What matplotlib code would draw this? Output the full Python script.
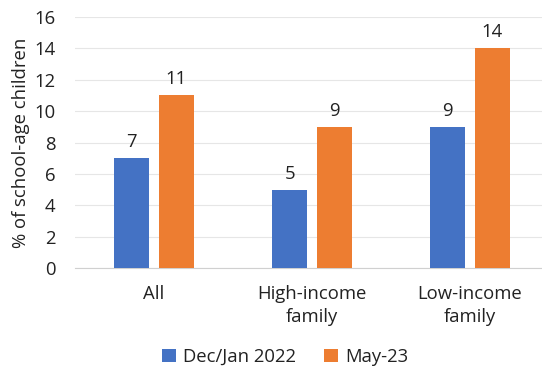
import matplotlib.pyplot as plt
import numpy as np

plt.rcParams['font.family'] = ['Open Sans', 'DejaVu Sans']

categories = ['All', 'High-income\nfamily', 'Low-income\nfamily']
series_names = ['Dec/Jan 2022', 'May-23']
dec_jan = [7, 5, 9]
may23 = [11, 9, 14]
colors = ['#4472C4', '#ED7D31']

W, H = 542, 367
fig = plt.figure(figsize=(W / 100, H / 100), dpi=100)
ax = fig.add_axes([75 / W, 1 - 268 / H, (W - 75) / W, (268 - 17) / H])

fs = 13.3
x = np.arange(len(categories))
bw = 0.222
off = 0.142
for vals, name, c, d in [(dec_jan, series_names[0], colors[0], -off),
                         (may23, series_names[1], colors[1], off)]:
    bars = ax.bar(x + d, vals, bw, color=c, label=name, zorder=3)
    for b, v in zip(bars, vals):
        ax.annotate(str(v), (b.get_x() + b.get_width() / 2, v),
                    xytext=(0, 5), textcoords='offset points',
                    ha='center', va='bottom', fontsize=fs, color='#222222')

ax.set_ylim(0, 16)
ax.set_yticks(range(0, 17, 2))
ax.set_xlim(-0.5, (W - 75) / 158 - 0.5)
ax.set_xticks(x)
ax.set_xticklabels(categories, fontsize=fs, color='#222222', linespacing=1.35)
ax.tick_params(axis='y', labelsize=fs, colors='#222222', length=0, pad=14)
ax.tick_params(axis='x', length=0, pad=12)
ax.grid(axis='y', color='#E6E6E6', linewidth=0.8, zorder=0)
for s in ['top', 'right', 'left']:
    ax.spines[s].set_visible(False)
ax.spines['bottom'].set_color('#D0D0D0')
ax.set_ylabel('% of school-age children', fontsize=fs, color='#222222', labelpad=3)

fig.legend(loc='center', bbox_to_anchor=(285 / W, 1 - 357 / H), ncol=2,
           frameon=False, fontsize=fs, handlelength=0.75, handleheight=0.75,
           handletextpad=0.4, columnspacing=1.5, labelcolor='#222222')

fig.savefig('out.png', dpi=100)
